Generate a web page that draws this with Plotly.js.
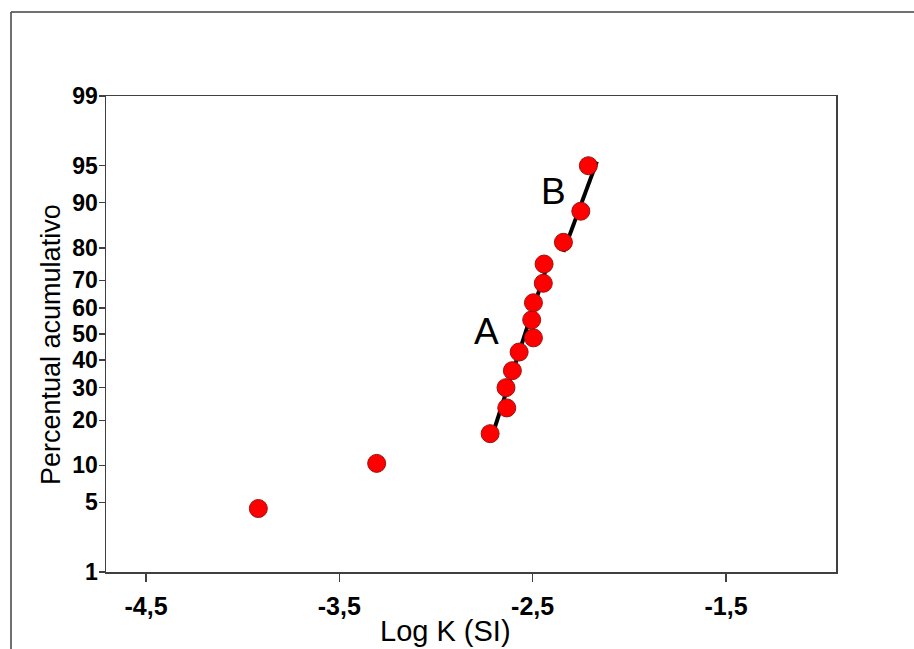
<!DOCTYPE html>
<html>
<head>
<meta charset="utf-8">
<script src="https://cdn.plot.ly/plotly-3.0.1.min.js"></script>
<style>
  html, body { margin: 0; padding: 0; background: #ffffff; }
  #chart { width: 914px; height: 649px; }
</style>
</head>
<body>
<div id="chart"></div>
<script>
// ---- data ----
const logK = [-3.919, -3.307, -2.720, -2.634, -2.638, -2.605, -2.570, -2.496, -2.505, -2.496, -2.445, -2.441, -2.341, -2.251, -2.212];
const cumPercent = [4.4, 10.3, 16.5, 23.5, 30, 36, 43, 48.5, 55.5, 62, 69, 75.3, 81.5, 88.5, 95];

const lineA_x = [-2.720, -2.424];
const lineA_p = [14.6, 75.0];
const lineB_x = [-2.341, -2.168];
const lineB_p = [78.9, 95.4];

const yTickPercents = [1, 5, 10, 20, 30, 40, 50, 60, 70, 80, 90, 95, 99];
const yTickLabels = ["1", "5", "10", "20", "30", "40", "50", "60", "70", "80", "90", "95", "99"];
const xTickVals = [-4.5, -3.5, -2.5, -1.5];
const xTickLabels = ["-4,5", "-3,5", "-2,5", "-1,5"];

const xTitle = "Log K (SI)";
const yTitle = "Percentual acumulativo";

// inverse standard normal CDF (Acklam)
function normInv(p) {
  const a = [-3.969683028665376e+01, 2.209460984245205e+02, -2.759285104469687e+02, 1.383577518672690e+02, -3.066479806614716e+01, 2.506628277459239e+00];
  const b = [-5.447609879822406e+01, 1.615858368580409e+02, -1.556989798598866e+02, 6.680131188771972e+01, -1.328068155288572e+01];
  const c = [-7.784894002430293e-03, -3.223964580411365e-01, -2.400758277161838e+00, -2.549732539343734e+00, 4.374664141464968e+00, 2.938163982698783e+00];
  const d = [7.784695709041462e-03, 3.224671290700398e-01, 2.445134137142996e+00, 3.754408661907416e+00];
  const pl = 0.02425, ph = 1 - pl;
  let q, r;
  if (p < pl) {
    q = Math.sqrt(-2 * Math.log(p));
    return (((((c[0]*q+c[1])*q+c[2])*q+c[3])*q+c[4])*q+c[5]) / ((((d[0]*q+d[1])*q+d[2])*q+d[3])*q+1);
  } else if (p <= ph) {
    q = p - 0.5; r = q * q;
    return (((((a[0]*r+a[1])*r+a[2])*r+a[3])*r+a[4])*r+a[5])*q / (((((b[0]*r+b[1])*r+b[2])*r+b[3])*r+b[4])*r+1);
  } else {
    q = Math.sqrt(-2 * Math.log(1 - p));
    return -(((((c[0]*q+c[1])*q+c[2])*q+c[3])*q+c[4])*q+c[5]) / ((((d[0]*q+d[1])*q+d[2])*q+d[3])*q+1);
  }
}
const z = pc => normInv(pc / 100);

const traces = [
  {
    x: lineA_x, y: lineA_p.map(z), mode: "lines", type: "scatter",
    line: { color: "#000000", width: 4 }, hoverinfo: "skip", showlegend: false
  },
  {
    x: lineB_x, y: lineB_p.map(z), mode: "lines", type: "scatter",
    line: { color: "#000000", width: 4 }, hoverinfo: "skip", showlegend: false
  },
  {
    x: logK, y: cumPercent.map(z), mode: "markers", type: "scatter",
    marker: { size: 18, color: "#ff0000", line: { color: "#a01010", width: 1 } },
    showlegend: false, cliponaxis: false
  }
];

const PL = 106, PR = 836, PT = 96, PB = 572;
const px = v => (v - PL) / (PR - PL);
const py = v => (PB - v) / (PB - PT);

const tickFontX = { family: "Liberation Sans", size: 25, color: "#000000", weight: 700 };
const tickFontY = { family: "Liberation Sans", size: 23, color: "#000000", weight: 700 };

const layout = {
  width: 914, height: 649,
  margin: { l: PL, r: 914 - PR, t: PT, b: 649 - PB, pad: 0 },
  paper_bgcolor: "#ffffff", plot_bgcolor: "#ffffff",
  showlegend: false,
  font: { family: "Liberation Sans, Arial, sans-serif", color: "#000000" },
  xaxis: {
    range: [-4.707, -0.931],
    tickmode: "array", tickvals: xTickVals, ticktext: xTickLabels,
    ticks: "outside", ticklen: 8, tickwidth: 1.2, tickcolor: "#404040",
    ticklabelstandoff: 3,
    tickfont: tickFontX,
    showline: true, linecolor: "#404040", linewidth: 1.5, mirror: true,
    showgrid: false, zeroline: false
  },
  yaxis: {
    range: [z(1), z(99)],
    tickmode: "array", tickvals: yTickPercents.map(z), ticktext: yTickLabels,
    ticks: "outside", ticklen: 6, tickwidth: 1.2, tickcolor: "#404040",
    ticklabelstandoff: -4,
    tickfont: tickFontY,
    showline: true, linecolor: "#404040", linewidth: 1.5, mirror: true,
    showgrid: false, zeroline: false
  },
  annotations: [
    { x: -2.741, y: z(50.9), text: "A", showarrow: false, font: { size: 37, color: "#000000" } },
    { x: -2.393, y: z(91.8), text: "B", showarrow: false, font: { size: 37, color: "#000000" } },
    { xref: "paper", yref: "paper", x: px(445), y: py(631), text: xTitle, showarrow: false,
      xanchor: "center", yanchor: "middle", font: { size: 29, color: "#000000" } },
    { xref: "paper", yref: "paper", x: px(51), y: py(345), text: yTitle, showarrow: false, textangle: -90,
      xanchor: "center", yanchor: "middle", font: { size: 27, color: "#000000" } }
  ],
  shapes: [
    { type: "line", xref: "paper", yref: "paper", x0: px(11), x1: px(914), y0: py(12), y1: py(12), line: { color: "#404040", width: 1.5 } },
    { type: "line", xref: "paper", yref: "paper", x0: px(11), x1: px(11), y0: py(12), y1: py(649), line: { color: "#404040", width: 1.5 } }
  ]
};

Plotly.newPlot("chart", traces, layout, { displayModeBar: false, staticPlot: true });
</script>
</body>
</html>
